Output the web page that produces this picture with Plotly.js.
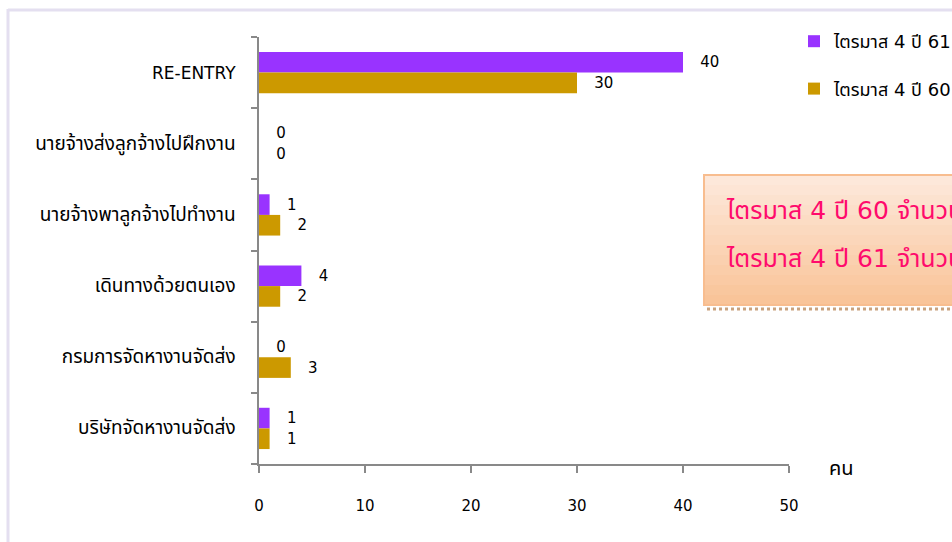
<!DOCTYPE html>
<html>
<head>
<meta charset="utf-8">
<script src="https://cdn.plot.ly/plotly-3.0.1.min.js"></script>
<style>html,body{margin:0;padding:0;background:#fff;overflow:hidden}#chart{width:952px;height:542px}</style>
</head>
<body>
<div id="chart"></div>
<script>
const categories = ["RE-ENTRY", "นายจ้างส่งลูกจ้างไปฝึกงาน", "นายจ้างพาลูกจ้างไปทำงาน", "เดินทางด้วยตนเอง", "กรมการจัดหางานจัดส่ง", "บริษัทจัดหางานจัดส่ง"];
const seriesNames = ["ไตรมาส 4 ปี 61", "ไตรมาส 4 ปี 60"];
const q4y61 = [40, 0, 1, 4, 0, 1];
const q4y60 = [30, 0, 2, 2, 3, 1];
const xTicks = [0, 10, 20, 30, 40, 50];
const noteLines = ["ไตรมาส 4 ปี 60 จำนวน", "ไตรมาส 4 ปี 61 จำนวน"];
const unitLabel = "คน";

const FONT = "'DejaVu Sans', Tahoma, 'Noto Sans Thai', sans-serif";
const W = 952, H = 542, L = 259, R = 163, T = 37, B = 78;
const pw = W - L - R, ph = H - T - B;
const px = v => (v - L) / pw;
const py = v => (H - B - v) / ph;
const isThai = s => /[\u0E00-\u0E7F]/.test(s);
const catText = categories.map(c => isThai(c) ? '<span style="font-size:19px">' + c + '</span>' : c);

const lab = '\u00a0\u00a0\u00a0%{x}';
const traces = [
  {type: 'bar', orientation: 'h', name: seriesNames[0], y: categories, x: q4y61,
   marker: {color: '#9933FF'}, texttemplate: lab, textposition: 'outside',
   cliponaxis: false, textfont: {size: 15, color: '#000', family: FONT}, hoverinfo: 'skip', legendgroup: 'a'},
  {type: 'bar', orientation: 'h', name: seriesNames[1], y: categories, x: q4y60,
   marker: {color: '#CC9900'}, texttemplate: lab, textposition: 'outside',
   cliponaxis: false, textfont: {size: 15, color: '#000', family: FONT}, hoverinfo: 'skip', legendgroup: 'b'}
];

// vertical gradient strips for the note box
const boxTop = 175, boxBot = 305, nStrips = 13;
const c0 = [253, 232, 218], c1 = [249, 196, 153];
const shapes = [
  {type: 'line', xref: 'paper', yref: 'paper', x0: px(8), x1: px(960), y0: py(10), y1: py(10), line: {color: '#e4dff0', width: 3}},
  {type: 'line', xref: 'paper', yref: 'paper', x0: px(8), x1: px(8), y0: py(9), y1: py(560), line: {color: '#e4dff0', width: 3}},
  {type: 'line', xref: 'paper', yref: 'paper', x0: px(707), x1: px(960), y0: py(309), y1: py(309), line: {color: '#c9a27e', width: 3, dash: 'dot'}}
];
for (let i = 0; i < nStrips; i++) {
  const t = i / (nStrips - 1);
  const c = c0.map((v, k) => Math.round(v + (c1[k] - v) * t));
  const y0 = boxTop + (boxBot - boxTop) * i / nStrips, y1 = boxTop + (boxBot - boxTop) * (i + 1) / nStrips + 0.6;
  shapes.push({type: 'rect', xref: 'paper', yref: 'paper', x0: px(704), x1: px(970), y0: py(y0), y1: py(y1),
    fillcolor: 'rgb(' + c.join(',') + ')', line: {width: 0}});
}
shapes.push({type: 'rect', xref: 'paper', yref: 'paper', x0: px(704), x1: px(970), y0: py(boxTop), y1: py(boxBot),
  fillcolor: 'rgba(0,0,0,0)', line: {color: '#f8bd8f', width: 2}});

const layout = {
  width: W, height: H,
  margin: {l: L, r: R, t: T, b: B, pad: 0, autoexpand: false},
  paper_bgcolor: '#fff', plot_bgcolor: 'rgba(0,0,0,0)',
  font: {family: FONT, size: 15, color: '#000'},
  barmode: 'group', bargap: 0.42, bargroupgap: 0,
  showlegend: true,
  legend: {x: px(794), y: py(23), xanchor: 'left', yanchor: 'top', traceorder: 'grouped',
    tracegroupgap: 21, itemwidth: 30, font: {size: 18, family: FONT}, bgcolor: 'rgba(0,0,0,0)'},
  xaxis: {range: [0, 50], tickvals: xTicks, ticks: 'outside', ticklen: 7, tickwidth: 2, tickcolor: '#898989',
    showline: true, linecolor: '#898989', linewidth: 2, showgrid: false, zeroline: false,
    ticklabelstandoff: 20, tickfont: {size: 15}},
  yaxis: {type: 'category', autorange: 'reversed', tickson: 'boundaries', ticks: 'outside', ticklen: 6,
    tickwidth: 2, tickcolor: '#898989', showline: true, linecolor: '#898989', linewidth: 2,
    tickvals: categories, ticktext: catText,
    showgrid: false, zeroline: false, ticklabelstandoff: 18, tickfont: {size: 17}},
  shapes: shapes,
  annotations: [
    {xref: 'paper', yref: 'paper', x: px(724), y: py(210), xanchor: 'left', yanchor: 'middle', showarrow: false,
     text: noteLines[0], font: {size: 25, color: '#ff0a6c', family: FONT}},
    {xref: 'paper', yref: 'paper', x: px(724), y: py(258), xanchor: 'left', yanchor: 'middle', showarrow: false,
     text: noteLines[1], font: {size: 25, color: '#ff0a6c', family: FONT}},
    {xref: 'paper', yref: 'paper', x: px(827), y: py(468), xanchor: 'left', yanchor: 'middle', showarrow: false,
     text: unitLabel, font: {size: 20, family: FONT}}
  ]
};

Plotly.newPlot('chart', traces, layout, {displayModeBar: false, staticPlot: true});
</script>
</body>
</html>
